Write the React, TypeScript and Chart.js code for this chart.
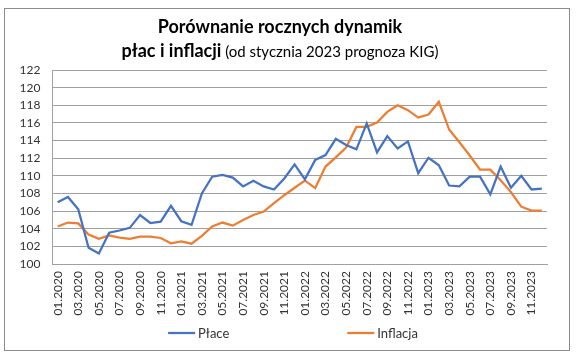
import React, { useEffect, useRef } from "react";
import { Chart, registerables } from "chart.js";

Chart.register(...registerables);

const months: string[] = [
  "01.2020", "02.2020", "03.2020", "04.2020", "05.2020", "06.2020", "07.2020", "08.2020", "09.2020", "10.2020", "11.2020", "12.2020",
  "01.2021", "02.2021", "03.2021", "04.2021", "05.2021", "06.2021", "07.2021", "08.2021", "09.2021", "10.2021", "11.2021", "12.2021",
  "01.2022", "02.2022", "03.2022", "04.2022", "05.2022", "06.2022", "07.2022", "08.2022", "09.2022", "10.2022", "11.2022", "12.2022",
  "01.2023", "02.2023", "03.2023", "04.2023", "05.2023", "06.2023", "07.2023", "08.2023", "09.2023", "10.2023", "11.2023", "12.2023",
];

const place: number[] = [
  107.0, 107.6, 106.2, 101.85, 101.2, 103.55, 103.8, 104.1, 105.55, 104.65, 104.8, 106.6,
  104.85, 104.45, 108.0, 109.9, 110.1, 109.8, 108.8, 109.45, 108.8, 108.45, 109.7, 111.3,
  109.6, 111.8, 112.35, 114.2, 113.5, 113.0, 115.95, 112.65, 114.5, 113.1, 113.9, 110.3,
  112.05, 111.2, 108.9, 108.8, 109.9, 109.9, 107.9, 111.05, 108.65, 110.0, 108.45, 108.55,
];

const inflacja: number[] = [
  104.25, 104.7, 104.6, 103.35, 102.85, 103.25, 103.0, 102.85, 103.1, 103.1, 102.95, 102.35,
  102.55, 102.3, 103.2, 104.25, 104.7, 104.35, 105.0, 105.55, 105.95, 106.9, 107.8, 108.65,
  109.45, 108.6, 111.05, 112.1, 113.2, 115.55, 115.55, 116.05, 117.25, 118.0, 117.45, 116.6,
  116.95, 118.4, 115.25, 113.8, 112.3, 110.7, 110.7, 109.5, 108.15, 106.5, 106.05, 106.05,
];

const yMin = 100;
const yMax = 122;
const yStep = 2;

const titleLine1 = "Porównanie rocznych dynamik";
const titleLine2Bold = "płac i inflacji";
const titleLine2Normal = " (od stycznia 2023 prognoza KIG)";
const seriesNames = ["Płace", "Inflacja"];
const seriesColors = ["#4472C4", "#ED7D31"];

const FONT = "Lato, 'Liberation Sans', sans-serif";
const GRID = "#a0a0a0";

const decorPlugin = {
  id: "decor",
  beforeDraw(chart: any) {
    const { ctx, width, height } = chart;
    ctx.save();
    ctx.fillStyle = "#ffffff";
    ctx.fillRect(0, 0, width, height);
    ctx.strokeStyle = "#8c8c8c";
    ctx.lineWidth = 1;
    ctx.strokeRect(4.5, 8.5, 565, 342);
    ctx.restore();
  },
  afterDraw(chart: any) {
    const ctx = chart.ctx;
    ctx.save();
    ctx.fillStyle = "#000000";
    ctx.textBaseline = "alphabetic";
    const cx = 280;
    // title line 1
    ctx.font = `bold 18px ${FONT}`;
    ctx.textAlign = "center";
    ctx.fillText(titleLine1, cx, 33);
    // title line 2
    ctx.font = `bold 18px ${FONT}`;
    const w1 = ctx.measureText(titleLine2Bold).width;
    ctx.font = `15px ${FONT}`;
    const w2 = ctx.measureText(titleLine2Normal).width;
    const start = cx - (w1 + w2) / 2;
    ctx.textAlign = "left";
    ctx.font = `bold 18px ${FONT}`;
    ctx.fillText(titleLine2Bold, start, 57);
    ctx.font = `15px ${FONT}`;
    ctx.fillText(titleLine2Normal, start + w1, 57);

    // legend
    ctx.font = `13px ${FONT}`;
    ctx.textBaseline = "middle";
    const ly = 333;
    const lineLen = 27;
    const textGap = 3;
    const itemGap = 118;
    const widths = seriesNames.map((n) => lineLen + textGap + ctx.measureText(n).width);
    const total = widths.reduce((a, b) => a + b, 0) + itemGap * (seriesNames.length - 1);
    let x = 293 - total / 2;
    seriesNames.forEach((name, i) => {
      ctx.strokeStyle = seriesColors[i];
      ctx.lineWidth = 2.25;
      ctx.beginPath();
      ctx.moveTo(x, ly);
      ctx.lineTo(x + lineLen, ly);
      ctx.stroke();
      ctx.fillStyle = "#333333";
      ctx.fillText(name, x + lineLen + textGap, ly + 1);
      x += widths[i] + itemGap;
    });
    ctx.restore();
  },
};

export default function App() {
  const ref = useRef<HTMLCanvasElement | null>(null);

  useEffect(() => {
    if (!ref.current) return;
    const chart = new Chart(ref.current, {
      type: "line",
      data: {
        labels: months,
        datasets: [
          {
            label: seriesNames[0],
            data: place,
            borderColor: seriesColors[0],
            backgroundColor: seriesColors[0],
            borderWidth: 2.25,
            pointRadius: 0,
            tension: 0,
          },
          {
            label: seriesNames[1],
            data: inflacja,
            borderColor: seriesColors[1],
            backgroundColor: seriesColors[1],
            borderWidth: 2.25,
            pointRadius: 0,
            tension: 0,
          },
        ],
      },
      options: {
        responsive: false,
        animation: false,
        devicePixelRatio: 1,
        layout: { padding: { top: 70, right: 30, bottom: 0, left: 0 } },
        plugins: {
          legend: { display: false },
          title: { display: false },
          tooltip: { enabled: false },
        },
        scales: {
          x: {
            type: "category",
            offset: true,
            grid: { display: true, drawOnChartArea: false, drawTicks: false, offset: true },
            border: { display: true, color: GRID, width: 1 },
            ticks: {
              autoSkip: false,
              maxRotation: 90,
              minRotation: 90,
              padding: 7,
              color: "#333333",
              font: { family: FONT, size: 12 },
              callback: (_v: any, i: number) => (i % 2 === 0 ? months[i] : ""),
            },
            afterFit: (s: any) => {
              s.height = 93;
            },
          },
          y: {
            min: yMin,
            max: yMax,
            grid: { color: GRID, drawTicks: false, lineWidth: 1 },
            border: { display: true, color: GRID, width: 1 },
            ticks: {
              stepSize: yStep,
              padding: 12,
              color: "#333333",
              font: { family: FONT, size: 12 },
            },
            afterFit: (s: any) => {
              s.width = 52.5;
            },
          },
        },
      },
      plugins: [decorPlugin],
    } as any);
    return () => chart.destroy();
  }, []);

  return (
    <div style={{ position: "absolute", left: 0, top: 0, width: 577, height: 357 }}>
      <canvas ref={ref} width={577} height={357} style={{ display: "block" }} />
    </div>
  );
}
